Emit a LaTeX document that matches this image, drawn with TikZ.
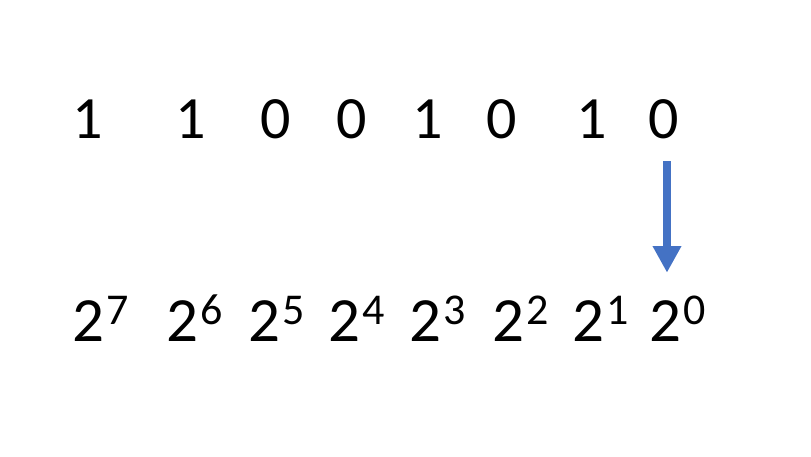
\documentclass[tikz,border=0pt]{standalone}
\usepackage{fontspec}
\setmainfont{Carlito}
\usetikzlibrary{arrows.meta}
\definecolor{officeblue}{HTML}{4472C4}
\newcommand{\pw}[1]{{\fontsize{63}{63}\selectfont 2}\kern2pt\raisebox{17pt}{\fontsize{44}{44}\selectfont #1}}
\tikzset{
    x=1pt, y=-1pt, % one unit is one pixel of the layout
    bit/.style={inner sep=0pt, anchor=base, font=\fontsize{60}{60}\selectfont}, % digits of the number
    power/.style={inner sep=0pt, anchor=base west}, % the powers of two
    bitarrow/.style={officeblue, line width=8.3pt, -{Triangle[width=27pt, length=26.7pt]}}, % the blue arrow
    }
\begin{document}
\begin{tikzpicture}
\useasboundingbox (0,0) rectangle (811,456);

\node[bit] (b7) at (87.5,138.3) {1};
\node[bit] (b6) at (190.8,138.3) {1};
\node[bit] (b5) at (276,138.3) {0};
\node[bit] (b4) at (351.7,138.3) {0};
\node[bit] (b3) at (427.5,138.3) {1};
\node[bit] (b2) at (501.7,138.3) {0};
\node[bit] (b1) at (591.5,138.3) {1};
\node[bit] (b0) at (663.7,138.3) {0};

\node[power] (p7) at (72,341.5) {\pw{7}};
\node[power] (p6) at (166,341.5) {\pw{6}};
\node[power] (p5) at (248.7,341.5) {\pw{5}};
\node[power] (p4) at (328.7,341.5) {\pw{4}};
\node[power] (p3) at (409.7,341.5) {\pw{3}};
\node[power] (p2) at (492,341.5) {\pw{2}};
\node[power] (p1) at (572,341.5) {\pw{1}};
\node[power] (p0) at (649.7,341.5) {\pw{0}};

\coordinate (tail) at (667,161);
\coordinate (tip) at (667,272.7);
\draw[bitarrow] (tail) -- (tip);

\end{tikzpicture}
\end{document}
